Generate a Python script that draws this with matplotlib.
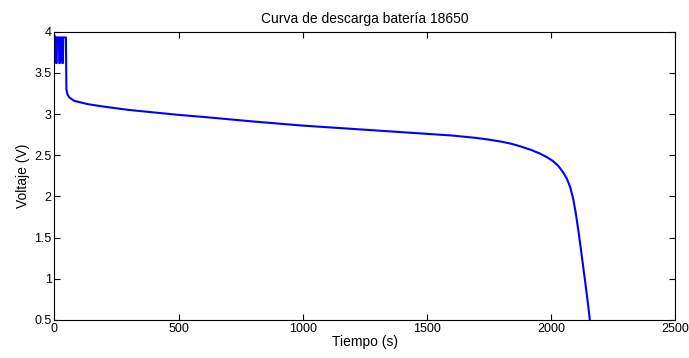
import matplotlib
matplotlib.use("Agg")
import matplotlib.pyplot as plt

plt.rcParams["font.family"] = ["Liberation Sans", "DejaVu Sans"]

# discharge curve (time in s, voltage in V)
tiempo = [0, 5, 6, 9, 10, 18, 19, 22, 23, 30, 31, 34, 35, 46, 48, 52,
          60, 80, 135, 200, 300, 400, 500, 600, 800, 1000, 1200, 1400,
          1500, 1600, 1650, 1700, 1750, 1800, 1840, 1875, 1920, 1956,
          1985, 2008, 2030, 2050, 2065, 2077, 2090, 2100, 2110, 2120,
          2130, 2140, 2150, 2157]
voltaje = [3.95, 3.93, 3.62, 3.62, 3.93, 3.93, 3.62, 3.62, 3.93, 3.93,
           3.62, 3.62, 3.93, 3.93, 3.30, 3.24, 3.20, 3.16, 3.12, 3.09,
           3.05, 3.02, 2.99, 2.965, 2.91, 2.86, 2.82, 2.78, 2.76, 2.74,
           2.725, 2.71, 2.69, 2.665, 2.64, 2.61, 2.565, 2.52, 2.475, 2.43,
           2.37, 2.29, 2.21, 2.12, 1.97, 1.80, 1.60, 1.38, 1.15, 0.92,
           0.68, 0.50]

fig = plt.figure(figsize=(6.89, 3.58), dpi=100)
ax = fig.add_axes([54.5 / 689, 1 - 320 / 358, 620.5 / 689, 288.3 / 358])
ax.plot(tiempo, voltaje, color="#0000ff", linewidth=1.5)

ax.set_xlim(0, 2500)
ax.set_ylim(0.5, 4)
ax.set_xticks([0, 500, 1000, 1500, 2000, 2500])
ax.set_yticks([0.5, 1, 1.5, 2, 2.5, 3, 3.5, 4])
ax.set_yticklabels(["0.5", "1", "1.5", "2", "2.5", "3", "3.5", "4"])
ax.tick_params(direction="in", top=True, right=True, labelsize=9,
               length=4, width=0.8, pad=2)
for s in ax.spines.values():
    s.set_linewidth(0.8)

ax.set_xlabel("Tiempo (s)", fontsize=10, labelpad=0)
ax.set_ylabel("Voltaje (V)", fontsize=10, labelpad=3)
ax.set_title("Curva de descarga batería 18650", fontsize=10, pad=6)

fig.savefig("out.png", dpi=100)
